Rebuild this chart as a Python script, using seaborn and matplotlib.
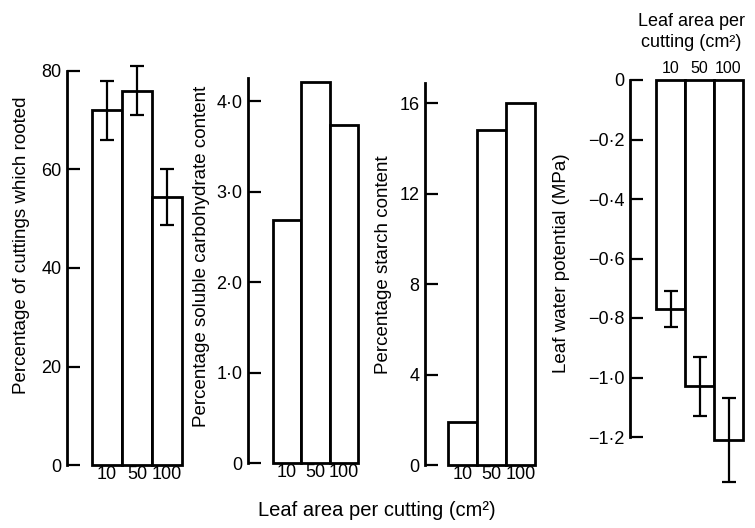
import matplotlib
matplotlib.use("Agg")
import matplotlib.pyplot as plt
import seaborn as sns
import pandas as pd

# ---- data ----
areas = ["10", "50", "100"]
rooted = [72.0, 76.0, 54.5]
rooted_err = [6.0, 5.0, 5.7]
carbohydrate = [2.68, 4.21, 3.73]
starch = [1.9, 14.8, 16.0]
water_potential = [-0.77, -1.03, -1.21]
water_potential_err = [0.06, 0.10, 0.14]

rooted_ticks = [0, 20, 40, 60, 80]
rooted_ticklabels = ["0", "20", "40", "60", "80"]
carb_ticks = [0, 1, 2, 3, 4]
carb_ticklabels = ["0", "1·0", "2·0", "3·0", "4·0"]
starch_ticks = [0, 4, 8, 12, 16]
starch_ticklabels = ["0", "4", "8", "12", "16"]
wp_ticks = [0, -0.2, -0.4, -0.6, -0.8, -1.0, -1.2]
wp_ticklabels = ["0", "−0·2", "−0·4", "−0·6", "−0·8", "−1·0", "−1·2"]

sns.set_theme(style="white")
plt.rcParams["font.family"] = ["Liberation Sans", "DejaVu Sans"]
plt.rcParams["text.color"] = "black"
plt.rcParams["axes.labelcolor"] = "black"
plt.rcParams["xtick.color"] = "black"
plt.rcParams["ytick.color"] = "black"

W, H = 755, 528
fig = plt.figure(figsize=(W / 100, H / 100), dpi=100)
fig.patch.set_facecolor("white")


def px_axes(left, bottom_px, width, height):
    # left/width in px from left; bottom_px = pixel row of axes bottom (from top)
    return fig.add_axes([left / W, (H - bottom_px) / H, width / W, height / H])


LW = 2.0
TICK_FS = 13
LABEL_FS = 13.5


def panel(ax, values, xlim, ylim, ticks, ticklabels, ylabel, label_x_px, label_y_px,
          ax_left, ax_w, ax_bottom, ax_h, err=None, top=False, xfs=TICK_FS):
    df = pd.DataFrame({"area": areas, "value": values})
    sns.barplot(data=df, x="area", y="value", order=areas, ax=ax, color="white",
                edgecolor="black", linewidth=LW, width=1.0, saturation=1)
    for p in ax.patches:
        p.set_facecolor("white")
        p.set_clip_on(False)
    if err is not None:
        ax.errorbar(range(len(areas)), values, yerr=err, fmt="none", ecolor="black",
                    elinewidth=1.6, capsize=5, capthick=1.6, clip_on=False)
    ax.set_xlim(*xlim)
    ax.set_ylim(*ylim)
    ax.set_yticks(ticks)
    ax.set_yticklabels(ticklabels, fontsize=TICK_FS)
    for s in ["top", "right", "bottom"]:
        ax.spines[s].set_visible(False)
    ax.spines["left"].set_linewidth(LW)
    ax.spines["left"].set_color("black")
    ax.tick_params(axis="y", direction="in", length=9, width=1.6, pad=4, left=True)
    if top:
        ax.xaxis.tick_top()
        ax.tick_params(axis="x", length=0, pad=3, labelsize=xfs, top=False, bottom=False)
    else:
        ax.tick_params(axis="x", length=0, pad=1, labelsize=xfs, bottom=False)
    ax.set_xlabel("")
    ax.set_ylabel(ylabel, fontsize=LABEL_FS, rotation=90, ha="center", va="center")
    ax.yaxis.set_label_coords((label_x_px - ax_left) / ax_w,
                              (ax_bottom - label_y_px) / ax_h)
    ax.patch.set_alpha(0)


# Panel 1: rooting percentage
ax1 = px_axes(67, 465, 115, 394)
panel(ax1, rooted, (-1.333, 2.5), (0, 80), rooted_ticks, rooted_ticklabels,
      "Percentage of cuttings which rooted", 22, 245, 67, 115, 465, 394, err=rooted_err)

# Panel 2: soluble carbohydrate
ax2 = px_axes(248, 463, 110, 385.5)
panel(ax2, carbohydrate, (-1.38, 2.5), (0, 4.26), carb_ticks, carb_ticklabels,
      "Percentage soluble carbohydrate content", 202, 256, 248, 110, 463, 385.5)

# Panel 3: starch
ax3 = px_axes(425, 465, 110, 382)
panel(ax3, starch, (-1.29, 2.5), (0, 16.9), starch_ticks, starch_ticklabels,
      "Percentage starch content", 383, 265, 425, 110, 465, 382)

# Panel 4: leaf water potential
ax4 = px_axes(630, 437, 113, 357)
panel(ax4, water_potential, (-1.4, 2.5), (-1.2, 0), wp_ticks, wp_ticklabels,
      "Leaf water potential (MPa)", 562, 263, 630, 113, 437, 357,
      err=water_potential_err, top=True, xfs=11.5)

fig.text(691 / W, (H - 32) / H, "Leaf area per\ncutting (cm²)", ha="center", va="center",
         fontsize=13, linespacing=1.25)

fig.text(377 / W, (H - 510) / H, "Leaf area per cutting (cm²)", ha="center", va="center",
         fontsize=14.5)

fig.savefig("out.png", dpi=100, facecolor="white")
